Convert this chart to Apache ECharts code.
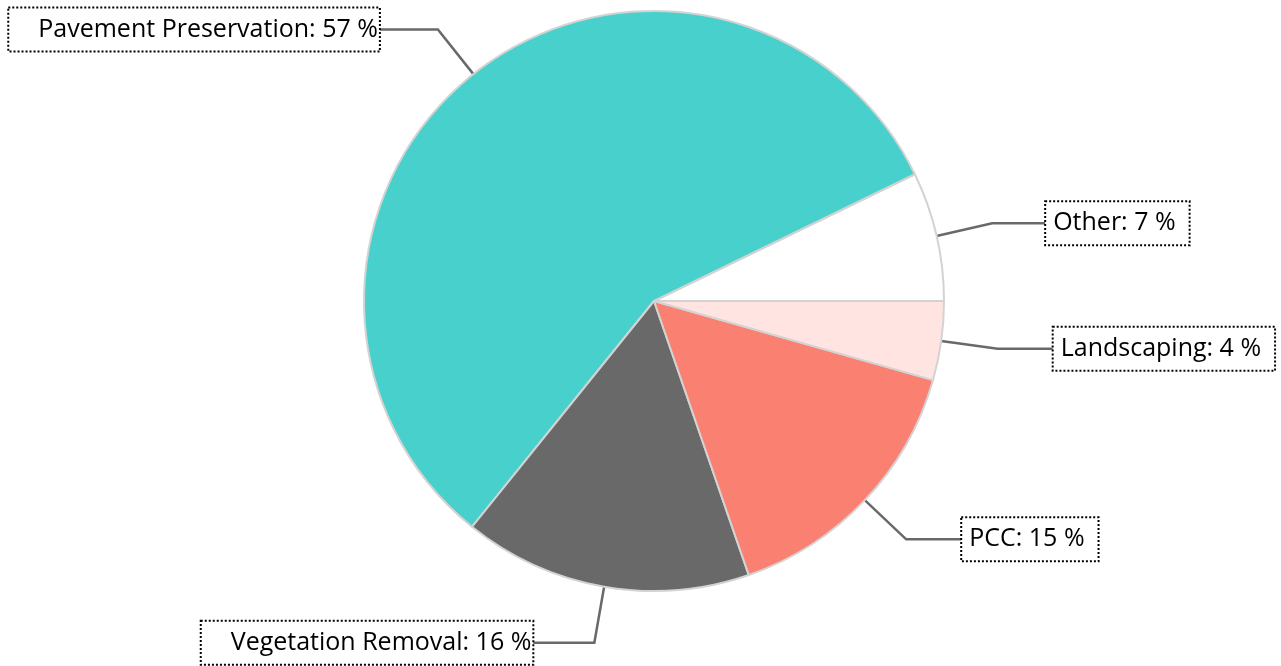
<!DOCTYPE html>
<html>
<head>
<meta charset="utf-8">
<script src="https://cdn.jsdelivr.net/npm/echarts@6/dist/echarts.min.js"></script>
<style>
html,body{margin:0;padding:0;background:#fff;}
#chart{width:1281px;height:666px;}
</style>
</head>
<body>
<div id="chart"></div>
<script>
var categories = ['Other', 'Pavement Preservation', 'Vegetation Removal', 'PCC', 'Landscaping'];
var values = [7.2, 57, 16.1, 15.3, 4.4];
var colors = ['#FFFFFF', '#48D1CC', '#696969', '#FA8072', '#FFE4E1'];
var lineLen2 = [53, 58, 61, 55, 55];

var chart = echarts.init(document.getElementById('chart'), null, {renderer: 'canvas'});
var data = categories.map(function (c, i) {
  var left = (i === 1 || i === 2);
  return {
    name: c,
    value: values[i],
    itemStyle: {color: colors[i]},
    label: {padding: left ? [8, 2, 6, 30] : [8, 14, 6, 8]},
    labelLine: {length2: lineLen2[i]}
  };
});
chart.setOption({
  animation: false,
  backgroundColor: '#fff',
  series: [{
    type: 'pie',
    center: [654, 301],
    radius: 290,
    startAngle: 0,
    clockwise: false,
    avoidLabelOverlap: false,
    data: data,
    itemStyle: {borderColor: '#D3D3D3', borderWidth: 2},
    emphasis: {disabled: true},
    label: {
      show: true,
      position: 'outside',
      distanceToLabelLine: 0,
      formatter: function (p) { return p.name + ': ' + Math.round(p.percent) + ' %'; },
      fontFamily: '"Segoe UI", "Open Sans", sans-serif',
      fontSize: 25,
      color: '#000',
      borderColor: '#000',
      borderWidth: 2,
      borderType: [2, 2],
      lineHeight: 30
    },
    labelLine: {
      show: true,
      length: 57,
      length2: 55,
      lineStyle: {color: '#696969', width: 2.5}
    }
  }]
});
</script>
</body>
</html>
